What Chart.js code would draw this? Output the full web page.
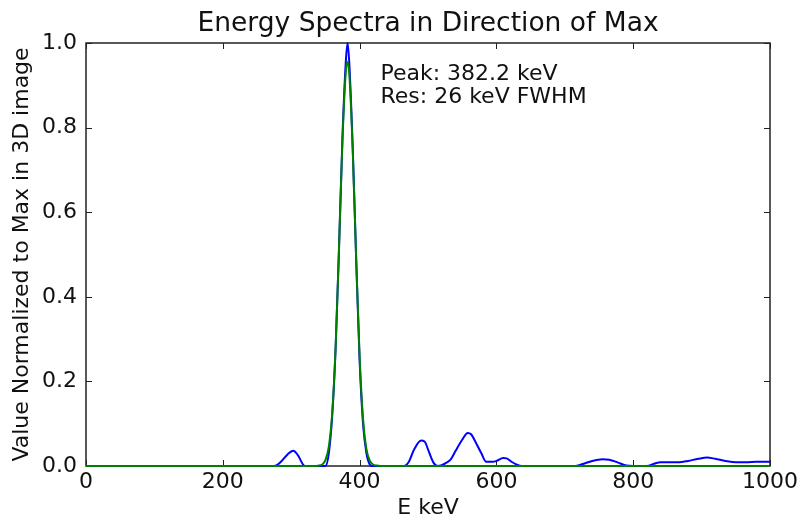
<!DOCTYPE html>
<html>
<head>
<meta charset="utf-8">
<script src="https://cdn.jsdelivr.net/npm/chart.js@4/dist/chart.umd.min.js"></script>
<style>
  html, body { margin: 0; padding: 0; background: #fff; }
  #wrap { width: 798px; height: 516px; }
</style>
</head>
<body>
<div id="wrap"><canvas id="c" width="798" height="516"></canvas></div>
<script>
// Measured spectrum (blue): energy in keV and normalized value
const measuredE = [0, 275, 285, 295, 303, 310, 318, 322, 350, 355, 360, 365, 370, 375, 380, 382.5, 385, 390, 395, 400, 405, 410, 415, 418,
  465, 472, 480, 490, 495, 501, 508, 514, 520, 527, 533, 540, 550, 558, 563, 570, 578, 585, 595, 600, 610, 615, 622, 630, 637,
  715, 725, 740, 755, 765, 778, 790, 800, 820, 830, 840, 855, 867, 880, 895, 908, 920, 935, 950, 965, 980, 1000];
const measuredV = [0, 0, 0.01, 0.028, 0.036, 0.025, 0.002, 0, 0, 0.03, 0.12, 0.28, 0.52, 0.78, 0.96, 1.0, 0.95, 0.75, 0.49, 0.25, 0.10, 0.03, 0.003, 0,
  0, 0.01, 0.04, 0.06, 0.058, 0.035, 0.008, 0, 0.002, 0.008, 0.015, 0.035, 0.062, 0.078, 0.075, 0.055, 0.03, 0.01, 0.01, 0.012, 0.019, 0.018, 0.01, 0.003, 0,
  0, 0.004, 0.012, 0.016, 0.015, 0.008, 0.001, 0, 0, 0.005, 0.009, 0.009, 0.009, 0.012, 0.017, 0.02, 0.017, 0.012, 0.009, 0.009, 0.01, 0.01];

// Peak fit (green)
const fitE = [0, 335, 340, 345, 350, 355, 360, 365, 370, 375, 380, 382.2, 385, 390, 395, 400, 405, 410, 415, 420, 425, 430, 1000];
const fitV = [0, 0, 0.001, 0.003, 0.014, 0.046, 0.126, 0.284, 0.519, 0.772, 0.936, 0.955, 0.925, 0.744, 0.488, 0.260, 0.113, 0.040, 0.012, 0.003, 0.001, 0, 0];

const xTicks = [0, 200, 400, 600, 800, 1000];
const yTicks = [0, 0.2, 0.4, 0.6, 0.8, 1.0];
const noteLines = ['Peak: 382.2 keV', 'Res: 26 keV FWHM'];

const FONT = '"DejaVu Sans", sans-serif';
const INK = '#111';

const toPoints = (xs, ys) => xs.map((x, i) => ({ x: x, y: ys[i] }));

// Frame with inward ticks on all four sides, plus the text note
const framePlugin = {
  id: 'frame',
  beforeDatasetsDraw(chart) {
    const { ctx, chartArea: a, scales } = chart;
    ctx.save();
    ctx.strokeStyle = '#222';
    ctx.lineWidth = 1.5;
    ctx.strokeRect(a.left, a.top, a.right - a.left, a.bottom - a.top);
    ctx.lineWidth = 1;
    const len = 6;
    ctx.beginPath();
    xTicks.forEach(v => {
      const px = Math.round(scales.x.getPixelForValue(v)) + 0.5;
      ctx.moveTo(px, a.bottom); ctx.lineTo(px, a.bottom - len);
      ctx.moveTo(px, a.top); ctx.lineTo(px, a.top + len);
    });
    yTicks.forEach(v => {
      const py = Math.round(scales.y.getPixelForValue(v)) + 0.5;
      ctx.moveTo(a.left, py); ctx.lineTo(a.left + len, py);
      ctx.moveTo(a.right, py); ctx.lineTo(a.right - len, py);
    });
    ctx.stroke();
    ctx.restore();
  },
  afterDatasetsDraw(chart) {
    const { ctx, scales } = chart;
    ctx.save();
    ctx.fillStyle = INK;
    ctx.font = '22px ' + FONT;
    ctx.textAlign = 'left';
    ctx.textBaseline = 'alphabetic';
    const x0 = scales.x.getPixelForValue(430.5);
    const y0 = scales.y.getPixelForValue(0.9125);
    noteLines.forEach((t, i) => ctx.fillText(t, x0, y0 + i * 23.4));
    ctx.restore();
  }
};

new Chart(document.getElementById('c'), {
  type: 'line',
  data: {
    datasets: [
      {
        label: 'fit',
        data: toPoints(fitE, fitV),
        borderColor: '#008000',
        borderWidth: 2,
        pointRadius: 0,
        fill: false,
        cubicInterpolationMode: 'monotone',
        clip: false,
        order: 0
      },
      {
        label: 'spectrum',
        data: toPoints(measuredE, measuredV),
        borderColor: '#0000ff',
        borderWidth: 2,
        pointRadius: 0,
        fill: false,
        cubicInterpolationMode: 'monotone',
        clip: false,
        order: 1
      }
    ]
  },
  options: {
    responsive: false,
    animation: false,
    devicePixelRatio: 1,
    layout: { padding: { left: 0, right: 28, top: 0, bottom: 0 } },
    plugins: {
      legend: { display: false },
      tooltip: { enabled: false },
      title: {
        display: true,
        fullSize: false,
        text: 'Energy Spectra in Direction of Max',
        color: INK,
        font: { family: FONT, size: 26.5, weight: 'normal', lineHeight: 1.2 },
        padding: { top: 8.2, bottom: 3 }
      }
    },
    scales: {
      x: {
        type: 'linear',
        min: 0,
        max: 1000,
        afterFit(s) { s.height = 50; s.paddingLeft = 0; s.paddingRight = 0; },
        afterBuildTicks(s) { s.ticks = xTicks.map(v => ({ value: v })); },
        grid: { display: false, drawTicks: false },
        border: { display: false },
        ticks: {
          color: INK,
          font: { family: FONT, size: 22 },
          padding: 3,
          maxRotation: 0,
          autoSkip: false,
          callback: v => String(v)
        },
        title: {
          display: true,
          text: 'E keV',
          color: INK,
          font: { family: FONT, size: 22 },
          padding: { top: 0, bottom: -5 }
        }
      },
      y: {
        type: 'linear',
        min: 0,
        max: 1,
        afterFit(s) { s.width = 86; s.paddingTop = 0; s.paddingBottom = 0; },
        afterBuildTicks(s) { s.ticks = yTicks.map(v => ({ value: v })); },
        grid: { display: false, drawTicks: false },
        border: { display: false },
        ticks: {
          color: INK,
          font: { family: FONT, size: 22 },
          padding: 9,
          autoSkip: false,
          callback: v => Number(v).toFixed(1)
        },
        title: {
          display: true,
          text: 'Value Normalized to Max in 3D image',
          color: INK,
          font: { family: FONT, size: 22 },
          padding: { top: 9.3, bottom: 0 }
        }
      }
    }
  },
  plugins: [framePlugin]
});
</script>
</body>
</html>
